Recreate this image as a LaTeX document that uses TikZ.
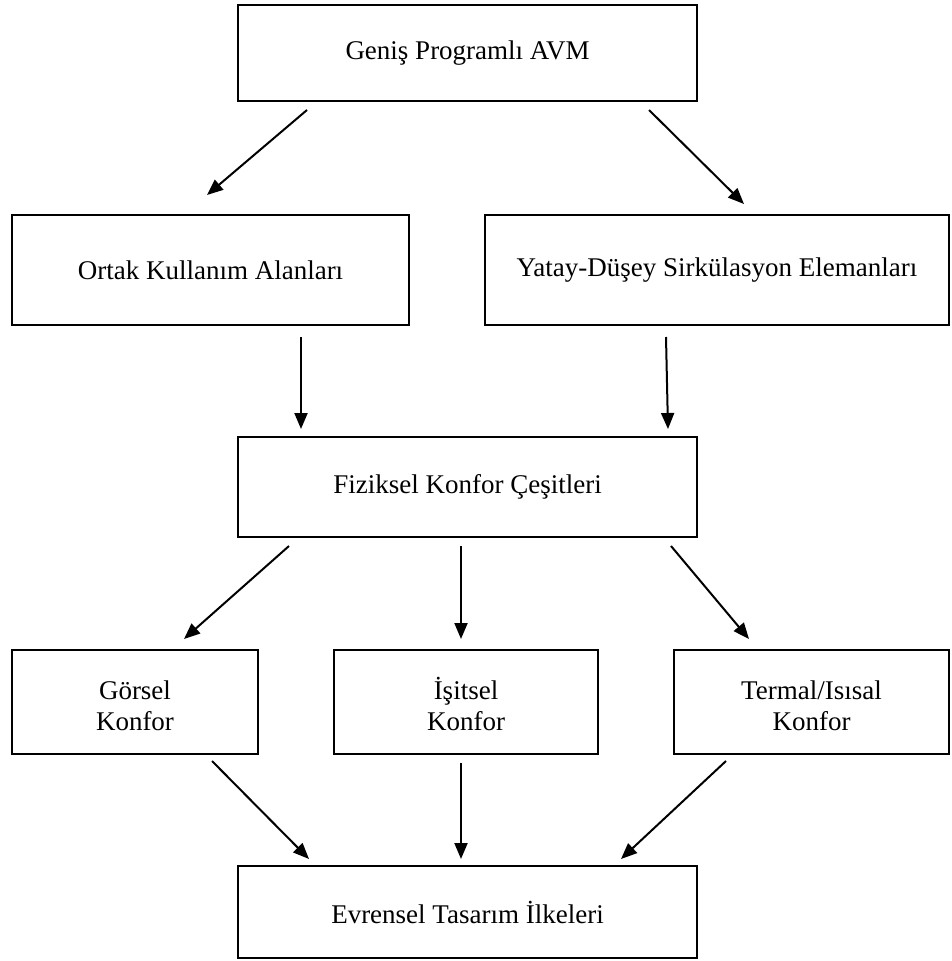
\documentclass[tikz,border=0pt]{standalone}
\usepackage{fontspec}
\setmainfont{Liberation Serif}
\usetikzlibrary{arrows.meta,calc}
\newcommand{\twoline}[2]{\raisebox{-7pt}[\height][\depth]{\begin{tabular}{@{}c@{}}#1\\[-1pt]#2\end{tabular}}}
\tikzset{
  box/.style={draw, line width=2pt, inner sep=0pt, align=center, font=\fontsize{27}{32}\selectfont},
  arr/.style={line width=2pt, -{Triangle[length=16pt,width=13pt]}}
}
\begin{document}
\begin{tikzpicture}[x=1pt,y=-1pt]
\useasboundingbox (0,0) rectangle (952,961);
\node[box, minimum width=459pt, minimum height=96pt] (b1) at (467.5,53) {Geniş Programlı AVM};
\node[box, minimum width=397pt, minimum height=110pt] (b2) at (210.5,270) {Ortak Kullanım Alanları};
\node[box, minimum width=464pt, minimum height=110pt] (b3) at (717,270) {Yatay-Düşey Sirkülasyon Elemanları};
\node[box, minimum width=459pt, minimum height=100pt] (b4) at (467.5,487) {Fiziksel Konfor Çeşitleri};
\node[box, minimum width=246pt, minimum height=104pt] (b5) at (135,702) {\twoline{Görsel}{Konfor}};
\node[box, minimum width=264pt, minimum height=104pt] (b6) at (466,702) {\twoline{İşitsel}{Konfor}};
\node[box, minimum width=275pt, minimum height=104pt] (b7) at (811.5,702) {\twoline{Termal/Isısal}{Konfor}};
\node[box, minimum width=459pt, minimum height=92pt] (b8) at (467.5,912) {Evrensel Tasarım İlkeleri};
\draw[arr] ($(b1.south west)+(70,8)$) -- ($(b2.north west)+(196,-19)$);
\draw[arr] ($(b1.south east)+(-49,8)$) -- ($(b3.north west)+(260,-10)$);
\draw[arr] ($(b2.south west)+(290,11)$) -- ($(b4.north west)+(64,-7)$);
\draw[arr] ($(b3.south west)+(182,11)$) -- ($(b4.north east)+(-30,-7)$);
\draw[arr] ($(b4.south west)+(52,8)$) -- ($(b5.north west)+(173,-10)$);
\draw[arr] ($(b4.south west)+(224,8)$) -- ($(b6.north west)+(128,-10)$);
\draw[arr] ($(b4.south east)+(-27,8)$) -- ($(b7.north west)+(76,-10)$);
\draw[arr] ($(b5.south west)+(201,6)$) -- ($(b8.north west)+(72,-6)$);
\draw[arr] ($(b6.south west)+(128,8)$) -- ($(b8.north west)+(224,-6)$);
\draw[arr] ($(b7.south west)+(53,6)$) -- ($(b8.north east)+(-77,-6)$);
\end{tikzpicture}
\end{document}
